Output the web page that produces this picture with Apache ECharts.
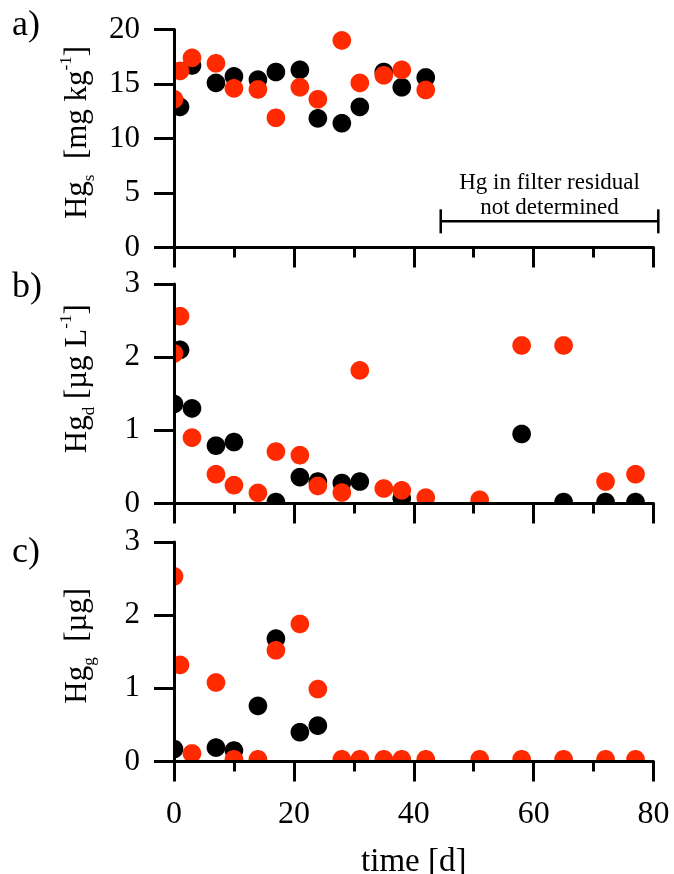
<!DOCTYPE html>
<html>
<head>
<meta charset="utf-8">
<script src="https://cdn.jsdelivr.net/npm/echarts@6/dist/echarts.min.js"></script>
<style>
  html, body { margin: 0; padding: 0; background: #fff; }
  #chart { width: 674px; height: 874px; }
</style>
</head>
<body>
<div id="chart"></div>
<script>
// sampling days
const days = [0, 1, 3, 7, 10, 14, 17, 21, 24, 28, 31, 35, 38, 42, 51, 58, 65, 72, 77];

// a) Hg in solid [mg kg-1]  (not determined after day 42)
const solidBlack = [null, 12.9, 16.7, 15.1, 15.7, 15.4, 16.1, 16.3, 11.85, 11.4, 12.9, 16.1, 14.7, 15.6];
const solidRed = [13.6, 16.2, 17.4, 16.9, 14.6, 14.5, 11.9, 14.7, 13.6, 19.0, 15.1, 15.8, 16.3, 14.45];

// b) dissolved Hg [ug L-1]
const dissBlack = [1.36, 2.10, 1.30, 0.79, 0.84, null, 0.02, 0.36, 0.30, 0.28, 0.30, null, 0.07, null, null, 0.95, 0.02, 0.02, 0.02];
const dissRed = [2.05, 2.56, 0.90, 0.40, 0.25, 0.145, 0.71, 0.66, 0.24, 0.15, 1.82, 0.205, 0.18, 0.08, 0.05, 2.16, 2.16, 0.30, 0.40];

// c) gaseous Hg [ug]
const gasBlack = [0.17, null, null, 0.19, 0.15, 0.76, 1.68, 0.40, 0.49, null, null, null, null, null, null, null, null, null, null];
const gasRed = [2.53, 1.32, 0.11, 1.08, 0.03, 0.03, 1.52, 1.88, 0.99, 0.03, 0.03, 0.03, 0.03, 0.03, 0.03, 0.03, 0.03, 0.03, 0.03];

// bracket for the "not determined" note: [from day, to day, at value]
const noteRange = [44.5, 80.8, 2.4];
const noteLines = ['Hg in filter residual', 'not determined'];

const yTicksA = [0, 20, 5];
const yTicksB = [0, 3, 1];
const yTicksC = [0, 3, 1];

const FONT = "'Liberation Serif', 'Times New Roman', serif";
const RED = '#ff2a00';

function pairs(vals) {
  const out = [];
  vals.forEach((v, i) => { if (v !== null) out.push([days[i], v]); });
  return out;
}

// circle outline clamped to the plot frame -> points on an axis show as half discs
function clippedDisc(cx, cy, r, cs) {
  const pts = [];
  for (let k = 0; k < 64; k++) {
    const t = (k / 64) * Math.PI * 2;
    const x = Math.min(Math.max(cx + r * Math.cos(t), cs.x), cs.x + cs.width);
    const y = Math.min(Math.max(cy + r * Math.sin(t), cs.y), cs.y + cs.height);
    pts.push([x, y]);
  }
  return pts;
}

function dotSeries(idx, vals, color) {
  return {
    type: 'custom',
    xAxisIndex: idx,
    yAxisIndex: idx,
    z: 1,
    data: pairs(vals),
    renderItem: (params, api) => {
      const p = api.coord([api.value(0), api.value(1)]);
      return {
        type: 'polygon',
        shape: { points: clippedDisc(p[0], p[1], 9.3, params.coordSys) },
        style: { fill: color },
      };
    },
  };
}

const axisLine = { lineStyle: { color: '#000', width: 3 } };

function xAxis(idx, showLabels) {
  return {
    type: 'value',
    gridIndex: idx,
    min: 0,
    max: 80,
    interval: 20,
    z: 5,
    axisLine: { onZero: false, ...axisLine },
    axisTick: { length: 20, lineStyle: { color: '#000', width: 3 } },
    minorTick: { show: true, splitNumber: 2, length: 10, lineStyle: { color: '#000', width: 3 } },
    splitLine: { show: false },
    axisLabel: { show: showLabels, color: '#000', fontFamily: FONT, fontSize: 32, margin: 37 },
    name: showLabels ? 'time [d]' : '',
    nameLocation: 'middle',
    nameGap: 84,
    nameTextStyle: { color: '#000', fontFamily: FONT, fontSize: 33 },
  };
}

const richName = {
  n: { fontFamily: FONT, fontSize: 31, color: '#000', lineHeight: 40, verticalAlign: 'middle' },
  sub: { fontFamily: FONT, fontSize: 17, color: '#000', lineHeight: 17, verticalAlign: 'bottom' },
  sup: { fontFamily: FONT, fontSize: 17, color: '#000', lineHeight: 17, verticalAlign: 'top' },
};

function yAxis(idx, ticks, name, shift) {
  return {
    type: 'value',
    gridIndex: idx,
    min: ticks[0],
    max: ticks[1],
    interval: ticks[2],
    z: 5,
    axisLine: { onZero: false, ...axisLine },
    axisTick: { length: 20, lineStyle: { color: '#000', width: 3 } },
    splitLine: { show: false },
    axisLabel: { color: '#000', fontFamily: FONT, fontSize: 31, margin: 34 },
    name: name,
    nameLocation: 'middle',
    nameGap: 76,
    nameTextStyle: { rich: richName, padding: [0, 0, 0, shift] },
  };
}

const chart = echarts.init(document.getElementById('chart'), null, { renderer: 'canvas' });

const gridBase = { left: 174, width: 479.5, outerBoundsMode: 'none', containLabel: false };

const option = {
  backgroundColor: '#fff',
  animation: false,
  grid: [
    { ...gridBase, top: 29.5, height: 218 },
    { ...gridBase, top: 284, height: 219.5 },
    { ...gridBase, top: 542, height: 219.5 },
  ],
  xAxis: [xAxis(0, false), xAxis(1, false), xAxis(2, true)],
  yAxis: [
    yAxis(0, yTicksA, '{n|Hg}{sub|s}{n|  [mg kg}{sup|-1}{n|]}', 12),
    yAxis(1, yTicksB, '{n|Hg}{sub|d}{n| [µg L}{sup|-1}{n|]}', 30),
    yAxis(2, yTicksC, '{n|Hg}{sub|g}{n|  [µg]}', 12),
  ],
  graphic: [
    { type: 'text', left: 12, top: 8, style: { text: 'a)', font: '36px ' + FONT, fill: '#000' } },
    { type: 'text', left: 12, top: 270, style: { text: 'b)', font: '36px ' + FONT, fill: '#000' } },
    { type: 'text', left: 12, top: 535, style: { text: 'c)', font: '36px ' + FONT, fill: '#000' } },
  ],
  series: [
    dotSeries(0, solidBlack, '#000'),
    dotSeries(0, solidRed, RED),
    dotSeries(1, dissBlack, '#000'),
    dotSeries(1, dissRed, RED),
    dotSeries(2, gasBlack, '#000'),
    dotSeries(2, gasRed, RED),
    {
      type: 'custom',
      xAxisIndex: 0,
      yAxisIndex: 0,
      clip: false,
      z: 4,
      data: [noteRange],
      renderItem: (params, api) => {
        const a = api.coord([api.value(0), api.value(2)]);
        const b = api.coord([api.value(1), api.value(2)]);
        const ls = { stroke: '#000', lineWidth: 2.5 };
        return {
          type: 'group',
          children: [
            { type: 'line', shape: { x1: a[0], y1: a[1], x2: b[0], y2: b[1] }, style: ls },
            { type: 'line', shape: { x1: a[0], y1: a[1] - 12, x2: a[0], y2: a[1] + 12 }, style: ls },
            { type: 'line', shape: { x1: b[0], y1: b[1] - 12, x2: b[0], y2: b[1] + 12 }, style: ls },
            {
              type: 'text',
              x: (a[0] + b[0]) / 2,
              y: a[1] - 26,
              style: {
                text: noteLines.join('\n'),
                font: '23px ' + FONT,
                lineHeight: 25,
                fill: '#000',
                align: 'center',
                verticalAlign: 'middle',
              },
            },
          ],
        };
      },
    },
  ],
};

chart.setOption(option);

window.addEventListener('resize', () => chart.resize());
</script>
</body>
</html>
